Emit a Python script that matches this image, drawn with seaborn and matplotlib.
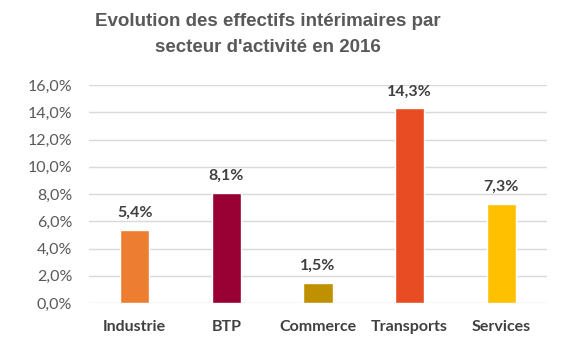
import matplotlib
matplotlib.use("Agg")
import matplotlib.pyplot as plt
import seaborn as sns
import pandas as pd

categories = ["Industrie", "BTP", "Commerce", "Transports", "Services"]
values = [5.4, 8.1, 1.5, 14.3, 7.3]
colors = ["#ED7D31", "#990033", "#BF9000", "#E84C22", "#FFC000"]
yticks = [0, 2, 4, 6, 8, 10, 12, 14, 16]

sns.set_theme(style="white")
plt.rcParams["font.family"] = ["Lato", "DejaVu Sans"]

df = pd.DataFrame({"cat": categories, "val": values})

fig = plt.figure(figsize=(5.74, 3.46), dpi=100)
ax = fig.add_axes([0.155, 0.124, 0.798, 0.630])
sns.barplot(data=df, x="cat", y="val", hue="cat", palette=colors, width=0.32,
            legend=False, ax=ax, saturation=1)

ax.set_ylim(0, 16)
ax.set_yticks(yticks)
ax.set_yticklabels([f"{t:.1f}%".replace(".", ",") for t in yticks], color="#595959", fontsize=11.5)
ax.yaxis.grid(True, color="#D9D9D9", linewidth=1)
ax.set_axisbelow(True)
for s in ["top", "right", "left", "bottom"]:
    ax.spines[s].set_visible(False)
ax.tick_params(axis="both", length=0)
ax.tick_params(axis="y", pad=12)
ax.tick_params(axis="x", pad=12)
for lbl in ax.get_xticklabels():
    lbl.set_fontweight("bold")
    lbl.set_color("#404040")
    lbl.set_fontsize(11.5)
ax.set_xlabel("")
ax.set_ylabel("")
ax.set_xlim(-0.5, 4.5)

for i, v in enumerate(values):
    ax.annotate(f"{v:.1f}%".replace(".", ","), (i, v), xytext=(0, 7), textcoords="offset points",
                ha="center", va="bottom", fontsize=11.5, fontweight="bold", color="#404040")

fig.text(0.467, 0.90, "Evolution des effectifs intérimaires par\nsecteur d'activité en 2016",
         ha="center", va="center", fontsize=13.5, fontweight="bold", color="#595959",
         family=["Liberation Sans", "DejaVu Sans"], linespacing=1.65)

fig.savefig("out.png", dpi=100)
